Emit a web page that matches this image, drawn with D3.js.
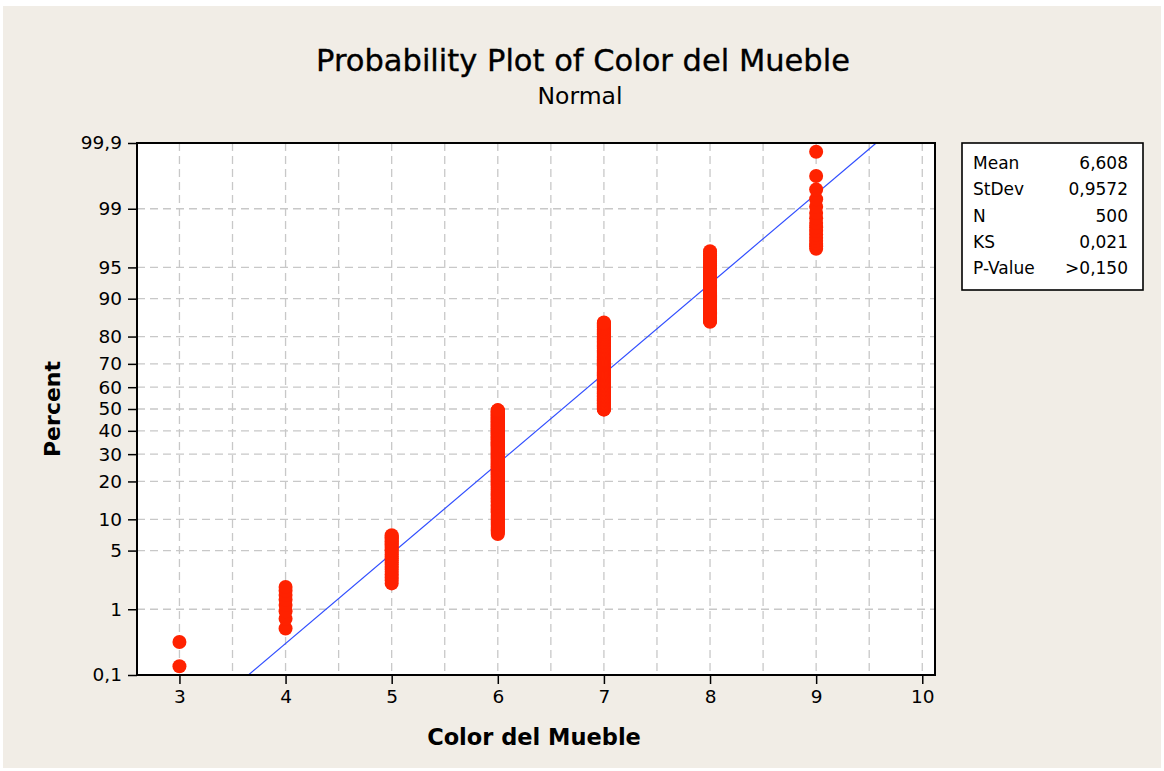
<!DOCTYPE html>
<html>
<head>
<meta charset="utf-8">
<script src="https://cdn.jsdelivr.net/npm/d3@7"></script>
<style>
  html, body { margin: 0; padding: 0; background: #ffffff; }
  svg { display: block; }
  text { font-family: "DejaVu Sans", sans-serif; fill: #000; }
</style>
</head>
<body>
<svg id="chart" width="1164" height="771"></svg>
<script>
// values 3..9 and how many of the 500 observations sit at each one
const values = [3, 4, 5, 6, 7, 8, 9];
const counts = [2, 8, 26, 212, 174, 62, 16];

const yTicks = [0.1, 1, 5, 10, 20, 30, 40, 50, 60, 70, 80, 90, 95, 99, 99.9];
const xTicks = [3, 4, 5, 6, 7, 8, 9, 10];

const statLabels = ["Mean", "StDev", "N", "KS", "P-Value"];
const statValues = ["6,608", "0,9572", "500", "0,021", ">0,150"];

const MEAN = 6.608;
const STDEV = 0.9572;

const PLOT_LEFT = 137;
const PLOT_RIGHT = 935;
const PLOT_TOP = 143;
const PLOT_BOTTOM = 675;

const svg = d3.select("#chart");

// beige panel behind everything
svg.append("rect")
  .attr("x", 3).attr("y", 6)
  .attr("width", 1158).attr("height", 762)
  .attr("fill", "#f1ede6");

const x = d3.scaleLinear().domain([2.6, 10.12]).range([PLOT_LEFT, PLOT_RIGHT]);

// normal probability scale: percent -> z -> pixel
const zMax = 3.0902;
const zScale = d3.scaleLinear().domain([-zMax, zMax]).range([PLOT_BOTTOM, PLOT_TOP]);

// inverse normal cdf (Acklam)
function probit(p) {
  const a = [-39.69683028665376, 220.9460984245205, -275.9285104469687, 138.357751867269, -30.66479806614716, 2.506628277459239];
  const b = [-54.47609879822406, 161.5858368580409, -155.6989798598866, 66.80131188771972, -13.28068155288572];
  const c = [-0.007784894002430293, -0.3223964580411365, -2.400758277161838, -2.549732539343734, 4.374664141464968, 2.938163982698783];
  const d = [0.007784695709041462, 0.3224671290700398, 2.445134137142996, 3.754408661907416];
  const pl = 0.02425;
  let q, r;
  if (p < pl) {
    q = Math.sqrt(-2 * Math.log(p));
    return (((((c[0] * q + c[1]) * q + c[2]) * q + c[3]) * q + c[4]) * q + c[5]) /
      ((((d[0] * q + d[1]) * q + d[2]) * q + d[3]) * q + 1);
  }
  if (p > 1 - pl) {
    q = Math.sqrt(-2 * Math.log(1 - p));
    return -(((((c[0] * q + c[1]) * q + c[2]) * q + c[3]) * q + c[4]) * q + c[5]) /
      ((((d[0] * q + d[1]) * q + d[2]) * q + d[3]) * q + 1);
  }
  q = p - 0.5;
  r = q * q;
  return (((((a[0] * r + a[1]) * r + a[2]) * r + a[3]) * r + a[4]) * r + a[5]) * q /
    (((((b[0] * r + b[1]) * r + b[2]) * r + b[3]) * r + b[4]) * r + 1);
}
const y = pct => zScale(probit(pct / 100));

// plot background
svg.append("rect")
  .attr("x", PLOT_LEFT).attr("y", PLOT_TOP)
  .attr("width", PLOT_RIGHT - PLOT_LEFT).attr("height", PLOT_BOTTOM - PLOT_TOP)
  .attr("fill", "#ffffff");

// grid
const grid = svg.append("g")
  .attr("stroke", "#c8c8c8").attr("stroke-width", 1.3).attr("stroke-dasharray", "8,5");
grid.selectAll("line.v")
  .data(d3.range(3, 10.01, 0.5))
  .join("line")
  .attr("x1", d => x(d)).attr("x2", d => x(d))
  .attr("y1", PLOT_TOP).attr("y2", PLOT_BOTTOM);
grid.selectAll("line.h")
  .data(yTicks.slice(1, -1))
  .join("line")
  .attr("x1", PLOT_LEFT).attr("x2", PLOT_RIGHT)
  .attr("y1", d => y(d)).attr("y2", d => y(d));

// fitted line, clipped to the plot
svg.append("clipPath").attr("id", "clip")
  .append("rect")
  .attr("x", PLOT_LEFT).attr("y", PLOT_TOP)
  .attr("width", PLOT_RIGHT - PLOT_LEFT).attr("height", PLOT_BOTTOM - PLOT_TOP);

svg.append("line")
  .attr("clip-path", "url(#clip)")
  .attr("x1", x(MEAN - zMax * STDEV)).attr("y1", zScale(-zMax))
  .attr("x2", x(MEAN + zMax * STDEV)).attr("y2", zScale(zMax))
  .attr("stroke", "#2f4dff").attr("stroke-width", 1.2);

// points at median ranks (i - 0.3) / (n + 0.4)
const n = d3.sum(counts);
const points = [];
let rank = 0;
values.forEach((v, k) => {
  for (let j = 0; j < counts[k]; j++) {
    rank++;
    points.push({ v, p: 100 * (rank - 0.3) / (n + 0.4) });
  }
});
svg.append("g")
  .selectAll("circle")
  .data(points)
  .join("circle")
  .attr("cx", d => x(d.v))
  .attr("cy", d => y(d.p))
  .attr("r", 7)
  .attr("fill", "#ff2200");

// frame
svg.append("rect")
  .attr("x", PLOT_LEFT).attr("y", PLOT_TOP)
  .attr("width", PLOT_RIGHT - PLOT_LEFT).attr("height", PLOT_BOTTOM - PLOT_TOP)
  .attr("fill", "none").attr("stroke", "#000").attr("stroke-width", 2);

// axes
const yAxis = d3.axisLeft(zScale)
  .tickValues(yTicks.map(t => probit(t / 100)))
  .tickFormat((d, i) => String(yTicks[i]).replace(".", ","))
  .tickSize(9).tickPadding(6);
svg.append("g")
  .attr("transform", `translate(${PLOT_LEFT},0)`)
  .call(yAxis)
  .call(g => g.select(".domain").remove())
  .call(g => g.selectAll("line").attr("stroke", "#000").attr("stroke-width", 1.5))
  .call(g => g.selectAll("text").attr("font-size", 18.5).style("font-family", "DejaVu Sans"));

const xAxis = d3.axisBottom(x).tickValues(xTicks).tickFormat(d3.format("d"))
  .tickSize(9).tickPadding(6);
svg.append("g")
  .attr("transform", `translate(0,${PLOT_BOTTOM})`)
  .call(xAxis)
  .call(g => g.select(".domain").remove())
  .call(g => g.selectAll("line").attr("stroke", "#000").attr("stroke-width", 1.5))
  .call(g => g.selectAll("text").attr("font-size", 18.5).style("font-family", "DejaVu Sans"));

// titles
svg.append("text")
  .attr("x", 583).attr("y", 71)
  .attr("text-anchor", "middle")
  .attr("font-size", 30.5)
  .attr("stroke", "#000").attr("stroke-width", 0.35)
  .text("Probability Plot of Color del Mueble");
svg.append("text")
  .attr("x", 580).attr("y", 104)
  .attr("text-anchor", "middle")
  .attr("font-size", 23.5)
  .text("Normal");
svg.append("text")
  .attr("x", 534).attr("y", 745)
  .attr("text-anchor", "middle")
  .attr("font-size", 22.5).attr("font-weight", "bold")
  .text("Color del Mueble");
svg.append("text")
  .attr("transform", `translate(60,${(PLOT_TOP + PLOT_BOTTOM) / 2}) rotate(-90)`)
  .attr("text-anchor", "middle")
  .attr("font-size", 22).attr("font-weight", "bold")
  .text("Percent");

// stats box
const box = svg.append("g");
box.append("rect")
  .attr("x", 962).attr("y", 143)
  .attr("width", 181).attr("height", 147)
  .attr("fill", "#ffffff").attr("stroke", "#000").attr("stroke-width", 1.6);
const rowY = d3.scaleLinear().domain([0, statLabels.length - 1]).range([169, 274]);
box.selectAll("text.lab")
  .data(statLabels)
  .join("text")
  .attr("x", 973).attr("y", (d, i) => rowY(i))
  .attr("font-size", 17)
  .text(d => d);
box.selectAll("text.val")
  .data(statValues)
  .join("text")
  .attr("x", 1128).attr("y", (d, i) => rowY(i))
  .attr("text-anchor", "end")
  .attr("font-size", 17)
  .text(d => d);
</script>
</body>
</html>
